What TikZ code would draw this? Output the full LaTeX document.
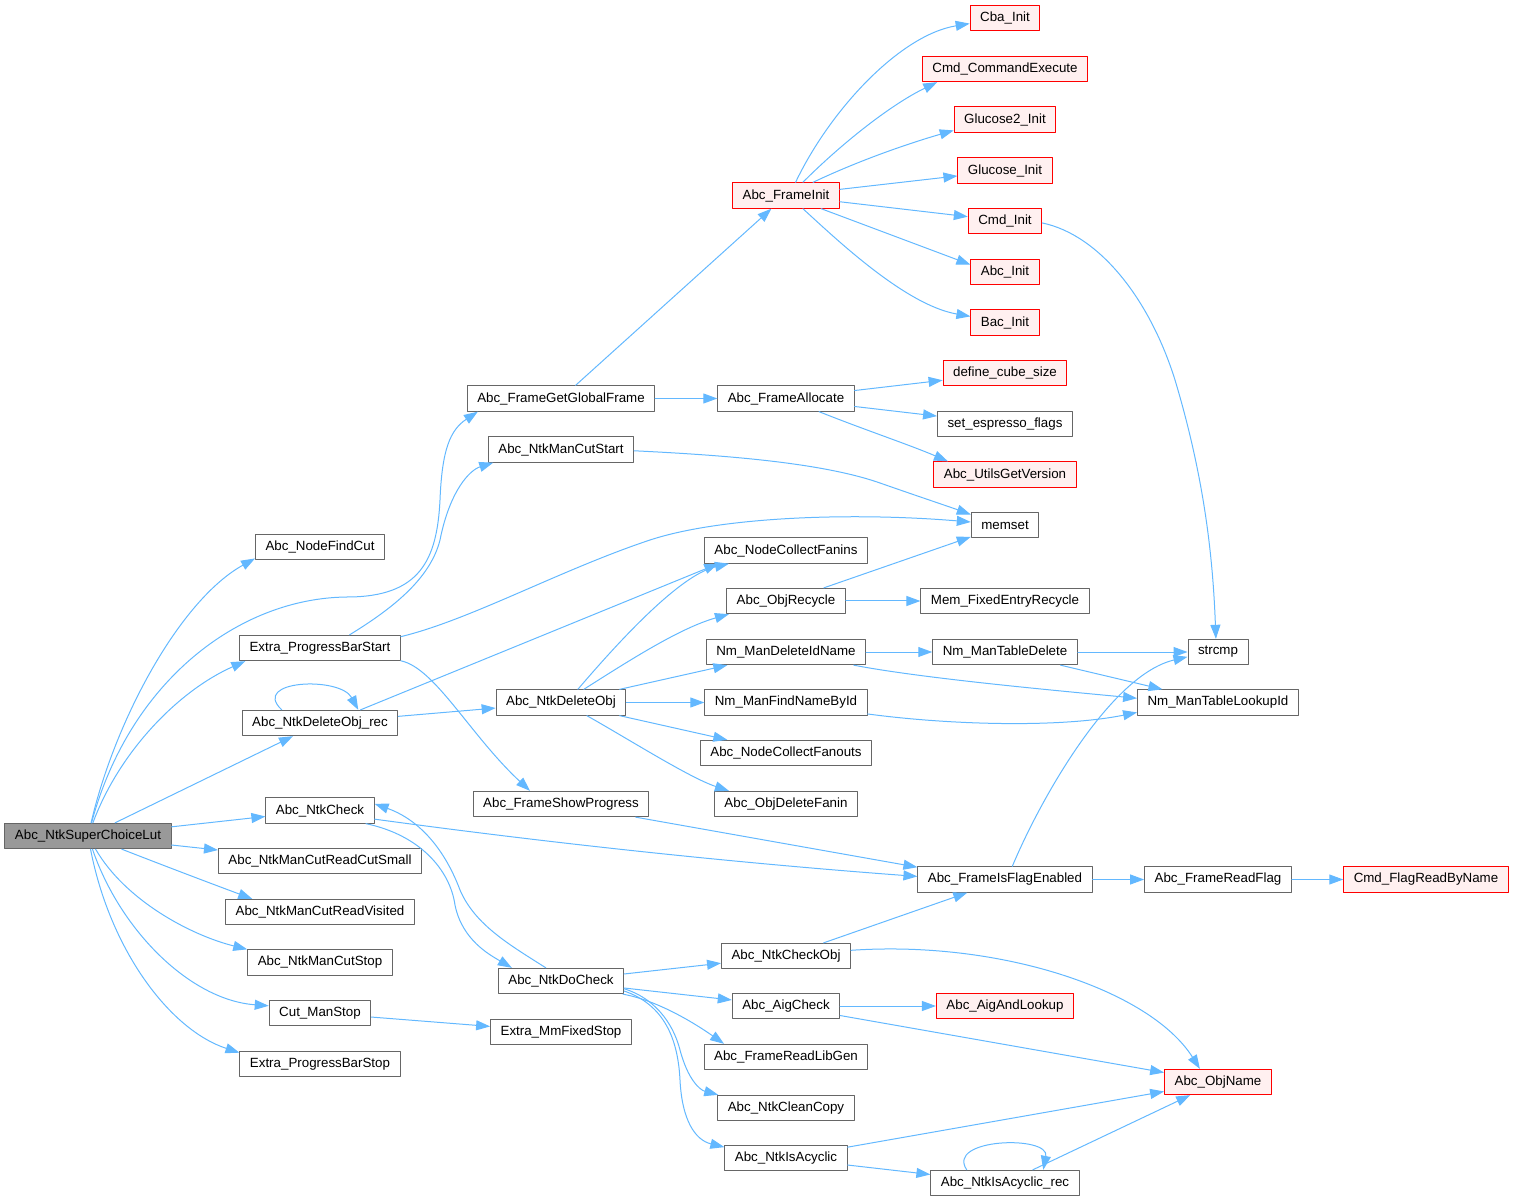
\documentclass[tikz,border=0pt]{standalone}
\usepackage{fontspec}
\setmainfont{Liberation Sans}
\usetikzlibrary{arrows.meta}
\definecolor{callblue}{HTML}{63B8FF}
\definecolor{boxgray}{HTML}{666666}
\definecolor{rootgray}{HTML}{999999}
\definecolor{redfill}{HTML}{FFF0F0}
\begin{document}
\begin{tikzpicture}[line cap=round,line join=round,>={Triangle[length=10.5pt,width=7.5pt]},x=0.75pt,y=-0.75pt,
	fn/.style={draw=boxgray,fill=white,line width=0.75pt,inner xsep=7.5pt,inner ysep=0pt,minimum height=19pt,font=\fontsize{10}{12}\selectfont},
	fnred/.style={fn,draw=red,fill=redfill},
	fnroot/.style={fn,fill=rootgray},
	call/.style={->,draw=callblue,line width=0.75pt}]
				\useasboundingbox (0,0) rectangle (1514,1201);
				\node[fnroot] (root) at (88,836) {Abc\_NtkSuperChoiceLut};
				\node[fn] (findcut) at (320,547) {Abc\_NodeFindCut};
				\node[fn] (pbstart) at (320,648) {Extra\_ProgressBarStart};
				\node[fn] (delrec) at (320,723) {Abc\_NtkDeleteObj\_rec};
				\node[fn] (ntkcheck) at (320,810.5) {Abc\_NtkCheck};
				\node[fn] (cutsmall) at (320,861) {Abc\_NtkManCutReadCutSmall};
				\node[fn] (visited) at (320,912) {Abc\_NtkManCutReadVisited};
				\node[fn] (cutstop) at (320,962.5) {Abc\_NtkManCutStop};
				\node[fn] (cutmanstop) at (320,1013) {Cut\_ManStop};
				\node[fn] (pbstop) at (320,1064) {Extra\_ProgressBarStop};
				\node[fn] (getglobal) at (561,398.5) {Abc\_FrameGetGlobalFrame};
				\node[fn] (cutstart) at (561,449.5) {Abc\_NtkManCutStart};
				\node[fn] (deleteobj) at (561,702.5) {Abc\_NtkDeleteObj};
				\node[fn] (showprogress) at (561,804) {Abc\_FrameShowProgress};
				\node[fn] (docheck) at (561,981) {Abc\_NtkDoCheck};
				\node[fn] (mmfixedstop) at (561,1032) {Extra\_MmFixedStop};
				\node[fnred] (frameinit) at (786,195.5) {Abc\_FrameInit};
				\node[fn] (frameallocate) at (786,398.5) {Abc\_FrameAllocate};
				\node[fn] (fanins) at (786,550.5) {Abc\_NodeCollectFanins};
				\node[fn] (recycle) at (786,601) {Abc\_ObjRecycle};
				\node[fn] (delidname) at (786,652) {Nm\_ManDeleteIdName};
				\node[fn] (findname) at (786,702.5) {Nm\_ManFindNameById};
				\node[fn] (fanouts) at (786,753) {Abc\_NodeCollectFanouts};
				\node[fn] (deletefanin) at (786,804) {Abc\_ObjDeleteFanin};
				\node[fn] (checkobj) at (786,956) {Abc\_NtkCheckObj};
				\node[fn] (aigcheck) at (786,1006) {Abc\_AigCheck};
				\node[fn] (readlibgen) at (786,1057) {Abc\_FrameReadLibGen};
				\node[fn] (cleancopy) at (786,1108) {Abc\_NtkCleanCopy};
				\node[fn] (isacyclic) at (786,1158) {Abc\_NtkIsAcyclic};
				\node[fnred] (cba) at (1005,18) {Cba\_Init};
				\node[fnred] (cmdexec) at (1005,69) {Cmd\_CommandExecute};
				\node[fnred] (glucose2) at (1005,119.5) {Glucose2\_Init};
				\node[fnred] (glucose) at (1005,170.5) {Glucose\_Init};
				\node[fnred] (cmdinit) at (1005,221) {Cmd\_Init};
				\node[fnred] (abcinit) at (1005,272) {Abc\_Init};
				\node[fnred] (bacinit) at (1005,322.5) {Bac\_Init};
				\node[fnred] (cubesize) at (1005,373) {define\_cube\_size};
				\node[fn] (espresso) at (1005,424) {set\_espresso\_flags};
				\node[fnred] (version) at (1005,474.5) {Abc\_UtilsGetVersion};
				\node[fn] (memset) at (1005,525) {memset};
				\node[fn] (fixedrecycle) at (1005,601) {Mem\_FixedEntryRecycle};
				\node[fn] (tabledelete) at (1005,652) {Nm\_ManTableDelete};
				\node[fn] (flagenabled) at (1005,879.5) {Abc\_FrameIsFlagEnabled};
				\node[fnred] (aigandlookup) at (1005,1006) {Abc\_AigAndLookup};
				\node[fn] (isacyclicrec) at (1005,1183) {Abc\_NtkIsAcyclic\_rec};
				\node[fn] (strcmp) at (1218,652) {strcmp};
				\node[fn] (lookupid) at (1218,702.5) {Nm\_ManTableLookupId};
				\node[fn] (readflag) at (1218,879.5) {Abc\_FrameReadFlag};
				\node[fnred] (objname) at (1218,1082) {Abc\_ObjName};
				\node[fnred] (flagbyname) at (1426,879.5) {Cmd\_FlagReadByName};
				% calls of the root
				\draw[call] (root) .. controls (115,720) and (180,600) .. (findcut.190);
				\draw[call] (root) .. controls (130,680) and (240,598) .. (347,597) .. controls (420,597) and (437,560) .. (440,500) .. controls (442,450) and (450,430) .. (getglobal.189);
				\draw[call] (root) .. controls (120,750) and (180,690) .. (pbstart.190);
				\draw[call] (root) -- (delrec);
				\draw[call] (root) -- (ntkcheck);
				\draw[call] (root) -- (cutsmall);
				\draw[call] (root) .. controls (170,868) and (215,885) .. (visited.169);
				\draw[call] (root) .. controls (125,900) and (190,935) .. (cutstop.north west);
				\draw[call] (root) .. controls (120,930) and (190,1000) .. (cutmanstop.172);
				\draw[call] (root) .. controls (110,950) and (170,1030) .. (pbstop.172);
				% second column
				\draw[call] (pbstart.24) .. controls (390,610) and (430,580) .. (440,540) .. controls (450,490) and (470,470) .. (cutstart.191);
				\draw[call] (pbstart.8) .. controls (470,620) and (560,570) .. (650,540) .. controls (720,517) and (850,512) .. (memset.175);
				\draw[call] (pbstart.-9) .. controls (435,668) and (470,735) .. (showprogress.157);
				\draw[call] (delrec.161) .. controls (250,680) and (340,676) .. (delrec.19);
				\draw[call] (delrec.18) -- (fanins.191);
				\draw[call] (delrec) -- (deleteobj);
				\draw[call] (ntkcheck.-9) .. controls (557,844) and (737,863) .. (flagenabled.178);
				\draw[call] (ntkcheck.-16) .. controls (420,835) and (450,870) .. (455,905) .. controls (462,940) and (490,955) .. (docheck.165);
				\draw[call] (docheck.139) .. controls (510,945) and (475,925) .. (460,890) .. controls (445,850) and (420,820) .. (ntkcheck.7);
				\draw[call] (cutmanstop) -- (mmfixedstop);
				% third column
				\draw[call] (getglobal) -- (frameinit);
				\draw[call] (getglobal) -- (frameallocate);
				\draw[call] (cutstart.-1) .. controls (720,455) and (820,462) .. (880,483) .. controls (920,497) and (950,507) .. (memset.163);
				\draw[call] (deleteobj.38) .. controls (620,640) and (680,575) .. (fanins.193);
				\draw[call] (deleteobj.30) .. controls (630,660) and (680,628) .. (recycle.193);
				\draw[call] (deleteobj) -- (delidname);
				\draw[call] (deleteobj) -- (findname);
				\draw[call] (deleteobj) -- (fanouts);
				\draw[call] (deleteobj.-27) .. controls (630,740) and (690,778) .. (deletefanin.167);
				\draw[call] (showprogress.-10) -- (flagenabled.172);
				\draw[call] (docheck) -- (checkobj);
				\draw[call] (docheck) -- (aigcheck);
				\draw[call] (docheck.-12) .. controls (655,1000) and (690,1020) .. (readlibgen.168);
				\draw[call] (docheck.-7) .. controls (660,1000) and (675,1030) .. (680,1050) .. controls (688,1080) and (700,1090) .. (cleancopy.169);
				\draw[call] (docheck.-9) .. controls (665,1005) and (678,1040) .. (680,1080) .. controls (682,1120) and (695,1140) .. (isacyclic.170);
				% fourth column
				\draw[call] (frameinit.54) .. controls (830,110) and (900,35) .. (cba.189);
				\draw[call] (frameinit.38) .. controls (840,145) and (890,105) .. (cmdexec.191);
				\draw[call] (frameinit.26) .. controls (860,160) and (910,143) .. (glucose2.192);
				\draw[call] (frameinit) -- (glucose);
				\draw[call] (frameinit) -- (cmdinit);
				\draw[call] (frameinit) -- (abcinit.168);
				\draw[call] (frameinit.-38) .. controls (835,238) and (905,305) .. (bacinit.170);
				\draw[call] (frameallocate) -- (cubesize);
				\draw[call] (frameallocate) -- (espresso);
				\draw[call] (frameallocate) .. controls (865,430) and (910,445) .. (version.167);
				\draw[call] (recycle) -- (memset);
				\draw[call] (recycle) -- (fixedrecycle);
				\draw[call] (delidname) -- (tabledelete);
				\draw[call] (delidname.-11) .. controls (920,678) and (1050,690) .. (lookupid.177);
				\draw[call] (findname.-8) .. controls (950,725) and (1060,728) .. (lookupid.187);
				\draw[call] (checkobj) -- (flagenabled);
				\draw[call] (checkobj.5) .. controls (1000,940) and (1150,990) .. (objname.144);
				\draw[call] (aigcheck) -- (aigandlookup);
				\draw[call] (aigcheck) -- (objname);
				\draw[call] (isacyclic) -- (objname);
				\draw[call] (isacyclic) -- (isacyclicrec);
				% right part
				\draw[call] (cmdinit.-3) .. controls (1100,235) and (1150,300) .. (1175,380) .. controls (1205,480) and (1213,560) .. (strcmp.99);
				\draw[call] (tabledelete) -- (strcmp);
				\draw[call] (tabledelete) -- (lookupid);
				\draw[call] (flagenabled.61) .. controls (1040,800) and (1110,675) .. (strcmp.189);
				\draw[call] (flagenabled) -- (readflag);
				\draw[call] (readflag) -- (flagbyname);
				\draw[call] (isacyclicrec.161) .. controls (945,1138) and (1050,1135) .. (isacyclicrec.19);
				\draw[call] (isacyclicrec) -- (objname);
			\end{tikzpicture}
\end{document}
